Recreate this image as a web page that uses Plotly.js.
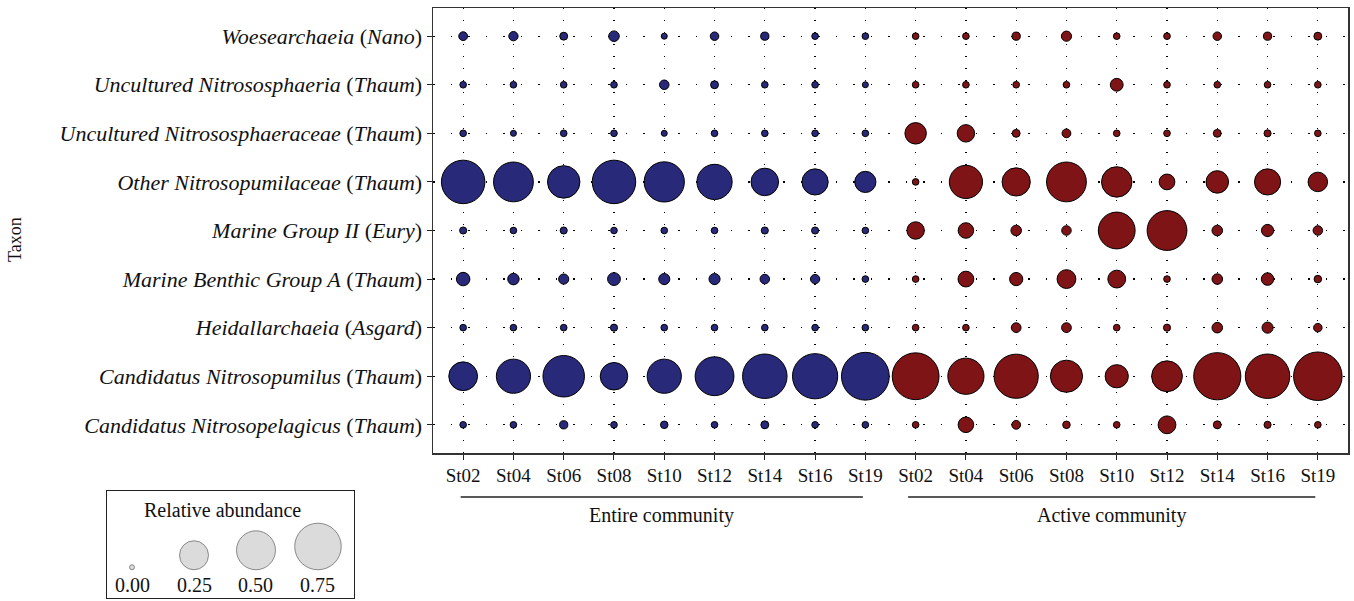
<!DOCTYPE html>
<html>
<head>
<meta charset="utf-8">
<script src="https://cdn.plot.ly/plotly-3.0.1.min.js"></script>
<style>html,body{margin:0;padding:0;background:#fff;}#chart{width:1354px;height:601px;}</style>
</head>
<body>
<div id="chart"></div>
<script>
// ---- Data ----
const stations = ['St02','St04','St06','St08','St10','St12','St14','St16','St19'];
const groups = ['Entire community','Active community'];
const taxa = [
  '<i>Woesearchaeia</i> (<i>Nano</i>)',
  '<i>Uncultured Nitrososphaeria</i> (<i>Thaum</i>)',
  '<i>Uncultured Nitrososphaeraceae</i> (<i>Thaum</i>)',
  '<i>Other Nitrosopumilaceae</i> (<i>Thaum</i>)',
  '<i>Marine Group II</i> (<i>Eury</i>)',
  '<i>Marine Benthic Group A</i> (<i>Thaum</i>)',
  '<i>Heidallarchaeia</i> (<i>Asgard</i>)',
  '<i>Candidatus Nitrosopumilus</i> (<i>Thaum</i>)',
  '<i>Candidatus Nitrosopelagicus</i> (<i>Thaum</i>)'
];
// relative abundance, rows = taxa (top to bottom), columns = stations
const entire = [
  [0.008, 0.010, 0.005, 0.016, 0.001, 0.007, 0.006, 0.002, 0.002],
  [0.002, 0.002, 0.002, 0.002, 0.011, 0.005, 0.002, 0.002, 0.001],
  [0.002, 0.001, 0.002, 0.002, 0.001, 0.002, 0.002, 0.002, 0.002],
  [0.660, 0.541, 0.340, 0.660, 0.553, 0.409, 0.230, 0.204, 0.121],
  [0.003, 0.002, 0.003, 0.002, 0.002, 0.002, 0.003, 0.003, 0.002],
  [0.035, 0.021, 0.014, 0.030, 0.019, 0.019, 0.011, 0.010, 0.002],
  [0.002, 0.002, 0.002, 0.003, 0.002, 0.002, 0.002, 0.002, 0.002],
  [0.256, 0.383, 0.594, 0.230, 0.383, 0.511, 0.694, 0.719, 0.814],
  [0.002, 0.002, 0.006, 0.002, 0.004, 0.002, 0.005, 0.002, 0.002]
];
const active = [
  [0.002, 0.002, 0.006, 0.014, 0.002, 0.002, 0.007, 0.006, 0.005],
  [0.002, 0.002, 0.002, 0.002, 0.030, 0.002, 0.002, 0.002, 0.002],
  [0.125, 0.073, 0.005, 0.008, 0.002, 0.002, 0.005, 0.003, 0.002],
  [0.002, 0.358, 0.244, 0.541, 0.293, 0.055, 0.141, 0.204, 0.098],
  [0.073, 0.053, 0.016, 0.011, 0.453, 0.541, 0.016, 0.026, 0.011],
  [0.002, 0.055, 0.033, 0.089, 0.077, 0.002, 0.016, 0.028, 0.004],
  [0.002, 0.002, 0.012, 0.012, 0.002, 0.003, 0.016, 0.019, 0.007],
  [0.777, 0.436, 0.684, 0.333, 0.152, 0.300, 0.791, 0.694, 0.840],
  [0.002, 0.053, 0.008, 0.004, 0.002, 0.077, 0.005, 0.003, 0.002]
];
const legendValues = [0.00, 0.25, 0.50, 0.75];

// ---- Styling helpers ----
const FONT = 'Liberation Serif, Times New Roman, serif';
const W = 1354, H = 601;
const sizeOf = v => 4.5 + 48 * Math.sqrt(v);
const px = (x) => x / W;
const py = (y) => 1 - y / H;

function buildTrace(mat, offset, color) {
  const x = [], y = [], s = [], t = [];
  mat.forEach((row, i) => row.forEach((v, j) => {
    x.push(offset + j); y.push(i); s.push(sizeOf(v)); t.push(v);
  }));
  return {
    type: 'scatter', mode: 'markers', x, y, text: t,
    xaxis: 'x', yaxis: 'y',
    marker: { size: s, sizemode: 'diameter', color: color, line: { color: '#000', width: 1 }, opacity: 1 },
    hovertemplate: '%{text}<extra></extra>'
  };
}

const traces = [
  buildTrace(entire, 0, '#29297A'),
  buildTrace(active, stations.length, '#7E1416')
];

// legend key (size scale)
const baseline = 28;
traces.push({
  type: 'scatter', mode: 'markers', xaxis: 'x2', yaxis: 'y2',
  x: legendValues,
  y: legendValues.map(v => baseline + (sizeOf(v) + 1) / 2),
  marker: { size: legendValues.map(v => sizeOf(v) + 0.5), sizemode: 'diameter', color: '#CCCCCC', line: { color: '#333', width: 0.8 } },
  hoverinfo: 'skip'
});

const nS = stations.length;
const tickvals = [], ticktext = [];
groups.forEach((g, gi) => stations.forEach((s, j) => { tickvals.push(gi * nS + j); ticktext.push(s); }));

const annotations = [
  { text: 'Taxon', xref: 'paper', yref: 'paper', x: px(15), y: py(240), xanchor: 'center', yanchor: 'middle',
    textangle: -90, showarrow: false, font: { family: FONT, size: 18, color: '#111' } },
  { text: groups[0], xref: 'x', yref: 'paper', x: (nS - 1) / 2 - 0.05, y: py(515), xanchor: 'center', yanchor: 'middle',
    showarrow: false, font: { family: FONT, size: 20, color: '#111' } },
  { text: groups[1], xref: 'x', yref: 'paper', x: nS + (nS - 1) / 2 - 0.1, y: py(515), xanchor: 'center', yanchor: 'middle',
    showarrow: false, font: { family: FONT, size: 20, color: '#111' } },
  { text: 'Relative abundance', xref: 'x2', yref: 'y2', x: 0.363, y: 88, xanchor: 'center', yanchor: 'middle',
    showarrow: false, font: { family: FONT, size: 20, color: '#111' } }
];
legendValues.forEach(v => annotations.push({
  text: v.toFixed(2), xref: 'x2', yref: 'y2', x: v, y: 13, xanchor: 'center', yanchor: 'middle', showarrow: false,
  font: { family: FONT, size: 20, color: '#111' }
}));

const shapes = [
  { type: 'line', xref: 'x', yref: 'paper', x0: -0.05, x1: nS - 1.05, y0: py(497), y1: py(497), line: { color: '#222', width: 1.4 } },
  { type: 'line', xref: 'x', yref: 'paper', x0: nS - 0.15, x1: 2 * nS - 1.05, y0: py(497), y1: py(497), line: { color: '#222', width: 1.4 } }
];

const layout = {
  width: W, height: H,
  margin: { l: 0, r: 0, t: 0, b: 0 },
  paper_bgcolor: '#fff', plot_bgcolor: '#fff',
  showlegend: false,
  xaxis: {
    domain: [px(433), px(1348)], range: [-0.6, 2 * nS - 0.4],
    tickvals, ticktext, ticks: 'outside', ticklen: 5, tickcolor: '#222', tickwidth: 1,
    showline: true, mirror: true, linecolor: '#333', linewidth: 1.5,
    showgrid: true, gridcolor: '#000', gridwidth: 1.2, griddash: '1px,11px',
    zeroline: false, tickfont: { family: FONT, size: 19, color: '#111' }, anchor: 'y'
  },
  yaxis: {
    domain: [py(453), py(8)], range: [taxa.length - 0.42, -0.58],
    tickvals: taxa.map((_, i) => i), ticktext: taxa, ticks: 'outside', ticklen: 5, tickcolor: '#222', tickwidth: 1,
    showline: true, mirror: true, linecolor: '#333', linewidth: 1.5,
    showgrid: true, gridcolor: '#000', gridwidth: 1.2, griddash: '1.5px,16px',
    zeroline: false, tickfont: { family: FONT, size: 22, color: '#111' }, anchor: 'x'
  },
  xaxis2: {
    domain: [px(107), px(354)], range: [-0.1008, 0.8952], anchor: 'y2',
    showline: true, mirror: true, linecolor: '#222', linewidth: 1.3,
    showticklabels: false, ticks: '', showgrid: false, zeroline: false, fixedrange: true
  },
  yaxis2: {
    domain: [py(598), py(491)], range: [0, 107], anchor: 'x2',
    showline: true, mirror: true, linecolor: '#222', linewidth: 1.3,
    showticklabels: false, ticks: '', showgrid: false, zeroline: false, fixedrange: true
  },
  annotations, shapes
};

Plotly.newPlot('chart', traces, layout, { displayModeBar: false, staticPlot: true });
</script>
</body>
</html>
